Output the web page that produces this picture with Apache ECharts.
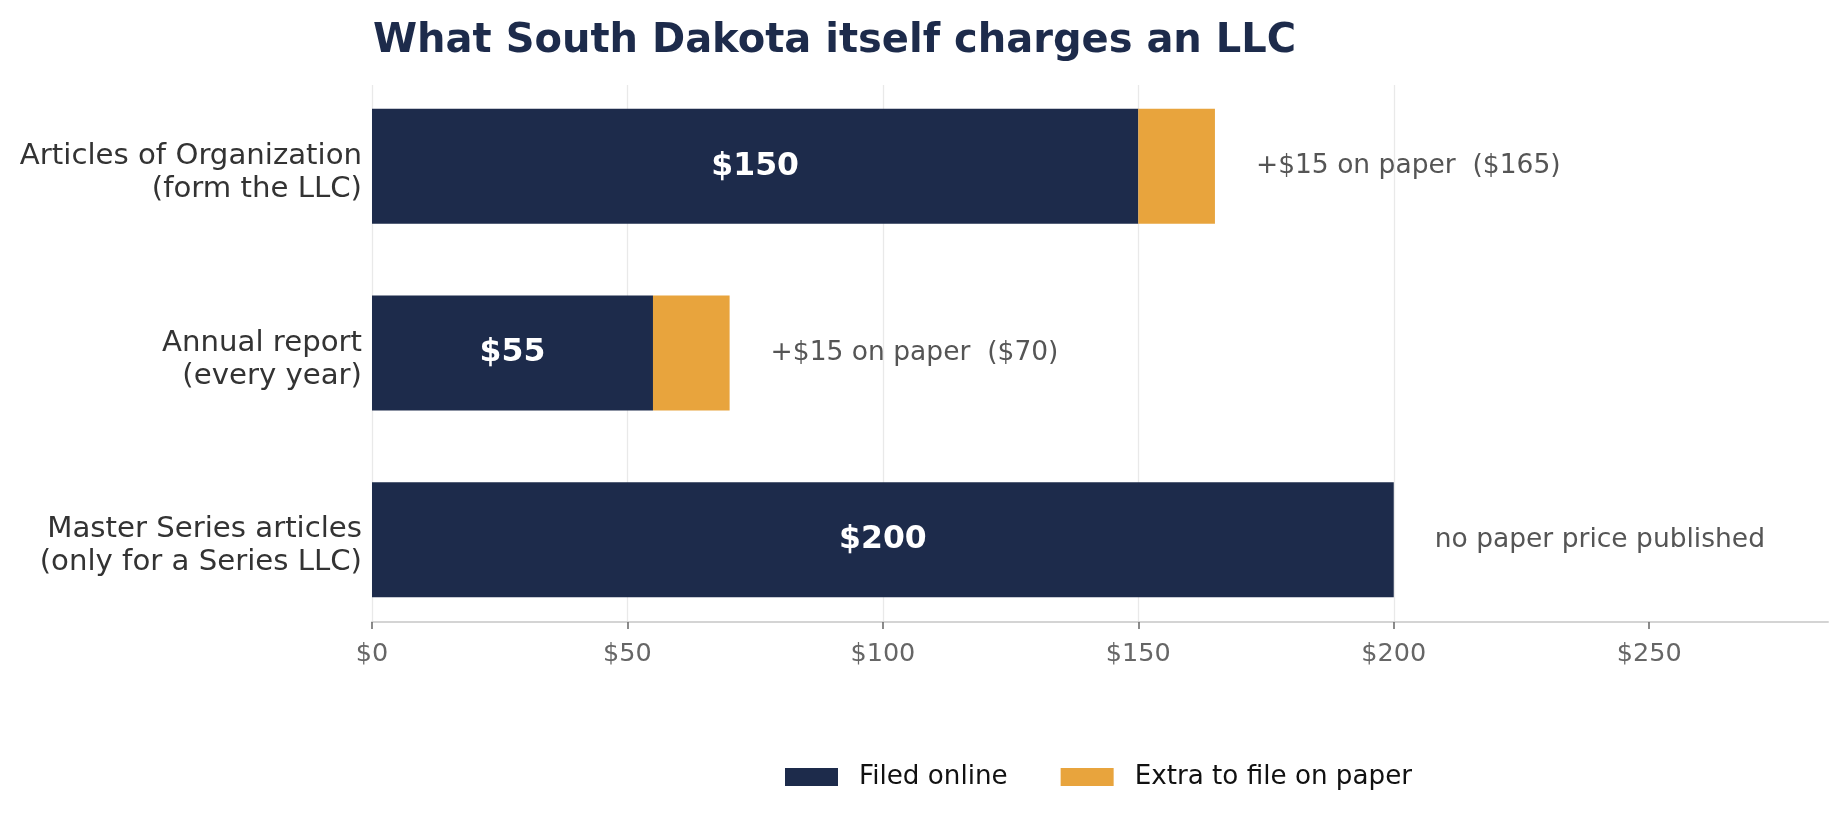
<!DOCTYPE html>
<html>
<head>
<meta charset="utf-8">
<title>South Dakota LLC fees</title>
<script src="https://cdn.jsdelivr.net/npm/echarts@6/dist/echarts.min.js"></script>
<style>
	html, body { margin: 0; padding: 0; background: #fff; }
</style>
</head>
<body>
	<div id="main" style="width: 1848px; height: 822px;"></div>
	<script type="text/javascript">
		// data
		var categories = ['Articles of Organization\n(form the LLC)', 'Annual report\n(every year)', 'Master Series articles\n(only for a Series LLC)'];
		var online = [150, 55, 200];
		var paperExtra = [15, 15, 0];
		var notes = ['+$15 on paper  ($165)', '+$15 on paper  ($70)', 'no paper price published'];
		var tickVals = [0, 50, 100, 150, 200, 250];
		var xMax = 285;

		var navy = '#1d2b4b';
		var orange = '#e8a43d';
		var font = 'DejaVu Sans';

		var myChart = echarts.init(document.getElementById('main'));

		// zero-length stacked bar just to hang the note labels on the bar end
		var noteData = [];
		for (var i = 0; i < notes.length; i++) {
			noteData.push(0);
		}

		option = {
			backgroundColor: '#fff',
			animation: false,
			title: {
				text: 'What South Dakota itself charges an LLC',
				left: 368,
				top: 17,
				textStyle: { fontFamily: font, fontSize: 40, fontWeight: 'bold', color: navy }
			},
			legend: {
				data: ['Filed online', 'Extra to file on paper'],
				left: 780,
				top: 757,
				icon: 'rect',
				itemWidth: 53,
				itemHeight: 18,
				itemGap: 53,
				textStyle: { fontFamily: font, fontSize: 26.2, color: '#111', lineHeight: 30, padding: [0, 0, 0, 16] }
			},
			grid: [
				// bars
				{ left: 372, right: 20, top: 73, height: 560 },
				// axis + grid lines
				{ left: 372, right: 20, top: 85, bottom: 200 }
			],
			xAxis: [
				{ type: 'value', gridIndex: 0, min: 0, max: xMax, show: false },
				{
					type: 'value', gridIndex: 1, min: 0, max: xMax, interval: 50,
					axisLine: { show: true, lineStyle: { color: '#d4d4d4', width: 2 } },
					axisTick: { show: true, length: 7, customValues: tickVals, lineStyle: { color: '#666', width: 1.5 } },
					axisLabel: {
						customValues: tickVals,
						margin: 19,
						fontFamily: font, fontSize: 25.5, color: '#666',
						formatter: function (v) { return '$' + v; }
					},
					splitLine: { show: true, showMaxLine: false, lineStyle: { color: '#e9e9e9', width: 1.3 } }
				}
			],
			yAxis: [
				{
					type: 'category', gridIndex: 0, data: categories, inverse: true,
					axisLine: { show: false },
					axisTick: { show: false },
					axisLabel: {
						margin: 10, fontFamily: font, fontSize: 29.2, color: '#333', lineHeight: 33,
						// small empty first line nudges the two text lines down a bit
						formatter: function (v) { return '{s|}\n' + v; },
						rich: { s: { lineHeight: 13, fontSize: 10 } }
					}
				},
				{ type: 'value', gridIndex: 1, min: 0, max: 1, show: false }
			],
			series: [
				{
					name: 'Filed online',
					type: 'bar',
					stack: 'fee',
					xAxisIndex: 0, yAxisIndex: 0,
					barWidth: 115,
					data: online,
					itemStyle: { color: navy },
					label: {
						show: true, position: 'inside',
						fontFamily: font, fontSize: 31.5, fontWeight: 'bold', color: '#fff',
						formatter: function (p) { return '$' + p.value; }
					}
				},
				{
					name: 'Extra to file on paper',
					type: 'bar',
					stack: 'fee',
					xAxisIndex: 0, yAxisIndex: 0,
					barWidth: 115,
					data: paperExtra,
					itemStyle: { color: orange }
				},
				{
					name: 'note',
					type: 'bar',
					stack: 'fee',
					xAxisIndex: 0, yAxisIndex: 0,
					barWidth: 115,
					data: noteData,
					itemStyle: { color: 'transparent' },
					label: {
						show: true, position: 'right', distance: 41,
						fontFamily: font, fontSize: 26.5, color: '#555',
						formatter: function (p) { return notes[p.dataIndex]; }
					}
				}
			]
		};
		myChart.setOption(option);
	</script>
</body>
</html>
